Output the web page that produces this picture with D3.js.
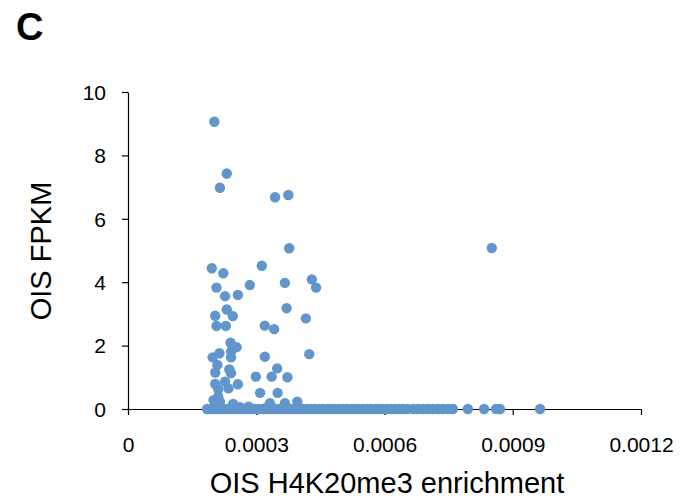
<!DOCTYPE html>
<html>
<head>
<meta charset="utf-8">
<script src="https://cdn.jsdelivr.net/npm/d3@7"></script>
<style>
  body { margin: 0; background: #fff; }
  svg { display: block; font-family: "Liberation Sans", Arial, sans-serif; }
</style>
</head>
<body>
<svg id="chart" width="695" height="503"></svg>
<script>
// genes with FPKM > 0 : enrichment vs expression
const enrichment = [
  0.000202, 0.000231, 0.000215, 0.000344, 0.000375, 0.000377, 0.000851,
  0.000196, 0.000223, 0.000313, 0.000207, 0.000227, 0.000257, 0.000285,
  0.000367, 0.000430, 0.000440, 0.000371, 0.000416, 0.000204, 0.000231,
  0.000245, 0.000207, 0.000229, 0.000320, 0.000342, 0.000240, 0.000254,
  0.000241, 0.000214, 0.000198, 0.000241, 0.000320, 0.000424, 0.000209,
  0.000204, 0.000237, 0.000241, 0.000349, 0.000299, 0.000336, 0.000373,
  0.000204, 0.000227, 0.000257, 0.000235, 0.000211, 0.000309, 0.000350,
  0.000211, 0.000200, 0.000215, 0.000246, 0.000332, 0.000367, 0.000396,
  0.000205, 0.000262, 0.000282, 0.000325
];
const fpkm = [
  9.06, 7.43, 6.98, 6.68, 6.75, 5.07, 5.08,
  4.44, 4.28, 4.52, 3.83, 3.56, 3.60, 3.91,
  3.98, 4.09, 3.83, 3.18, 2.86, 2.94, 3.14,
  2.93, 2.62, 2.62, 2.63, 2.52, 2.09, 1.95,
  1.81, 1.76, 1.63, 1.63, 1.65, 1.73, 1.39,
  1.15, 1.25, 1.13, 1.28, 1.02, 1.02, 1.00,
  0.79, 0.86, 0.78, 0.65, 0.62, 0.51, 0.51,
  0.39, 0.28, 0.23, 0.16, 0.18, 0.18, 0.23,
  0.08, 0.06, 0.07, 0.05
];
// genes with FPKM = 0
const zeroEnrichment = [
  0.000185, 0.000194, 0.000204, 0.000213, 0.000222, 0.000232, 0.000241,
  0.000250, 0.000260, 0.000269, 0.000278, 0.000288, 0.000297, 0.000306,
  0.000316, 0.000325, 0.000335, 0.000344, 0.000353, 0.000363, 0.000372,
  0.000381, 0.000391, 0.000400, 0.000409, 0.000419, 0.000428, 0.000437,
  0.000447, 0.000456, 0.000466, 0.000475, 0.000484, 0.000494, 0.000503,
  0.000512, 0.000522, 0.000531, 0.000540, 0.000550, 0.000559, 0.000568,
  0.000578, 0.000587, 0.000596, 0.000606, 0.000615, 0.000625, 0.000634,
  0.000643, 0.000653, 0.000667, 0.000678, 0.000690, 0.000702, 0.000713,
  0.000725, 0.000737, 0.000749, 0.000760, 0.000795, 0.000833, 0.000861,
  0.000870, 0.000964
];
const xTicks = [0, 0.0003, 0.0006, 0.0009, 0.0012];
const yTicks = [0, 2, 4, 6, 8, 10];

const svg = d3.select("#chart");
const dotColor = "#6096cc";

const x = d3.scaleLinear().domain([0, 0.0012]).range([128, 641]);
const y = d3.scaleLinear().domain([0, 10]).range([409, 92]);

// x axis
const xAxis = svg.append("g")
  .attr("transform", `translate(0,${y(0)})`)
  .call(d3.axisBottom(x).tickValues(xTicks).tickSize(6).tickSizeOuter(0)
    .tickFormat(d => d === 0 ? "0" : d3.format(".4f")(d)));
xAxis.select(".domain").attr("stroke", "#000").attr("stroke-width", 1.2);
xAxis.selectAll(".tick line").attr("stroke", "#000").attr("stroke-width", 1.2);
xAxis.selectAll(".tick text")
  .attr("y", 43).attr("dy", 0)
  .attr("font-size", 21).attr("fill", "#000");

// y axis
const yAxis = svg.append("g")
  .attr("transform", `translate(${x(0)},0)`)
  .call(d3.axisLeft(y).tickValues(yTicks).tickSize(6).tickSizeOuter(0));
yAxis.select(".domain").attr("stroke", "#000").attr("stroke-width", 1.2);
yAxis.selectAll(".tick line").attr("stroke", "#000").attr("stroke-width", 1.2);
yAxis.selectAll(".tick text")
  .attr("x", -22).attr("dy", "0.35em")
  .attr("font-size", 21).attr("fill", "#000");

// points
const g = svg.append("g");
g.selectAll("circle.zero")
  .data(zeroEnrichment)
  .join("circle")
  .attr("class", "zero")
  .attr("cx", d => x(d))
  .attr("cy", y(0))
  .attr("r", 5.2)
  .attr("fill", dotColor);

g.selectAll("circle.pos")
  .data(enrichment.map((e, i) => [e, fpkm[i]]))
  .join("circle")
  .attr("class", "pos")
  .attr("cx", d => x(d[0]))
  .attr("cy", d => y(d[1]))
  .attr("r", 5.2)
  .attr("fill", dotColor);

// titles
svg.append("text")
  .attr("x", 387).attr("y", 493)
  .attr("text-anchor", "middle")
  .attr("font-size", 29)
  .text("OIS H4K20me3 enrichment");

svg.append("text")
  .attr("transform", "translate(51,251) rotate(-90)")
  .attr("text-anchor", "middle")
  .attr("font-size", 29)
  .text("OIS FPKM");

svg.append("text")
  .attr("x", 16).attr("y", 40)
  .attr("font-size", 38)
  .attr("font-weight", "bold")
  .text("C");
</script>
</body>
</html>
